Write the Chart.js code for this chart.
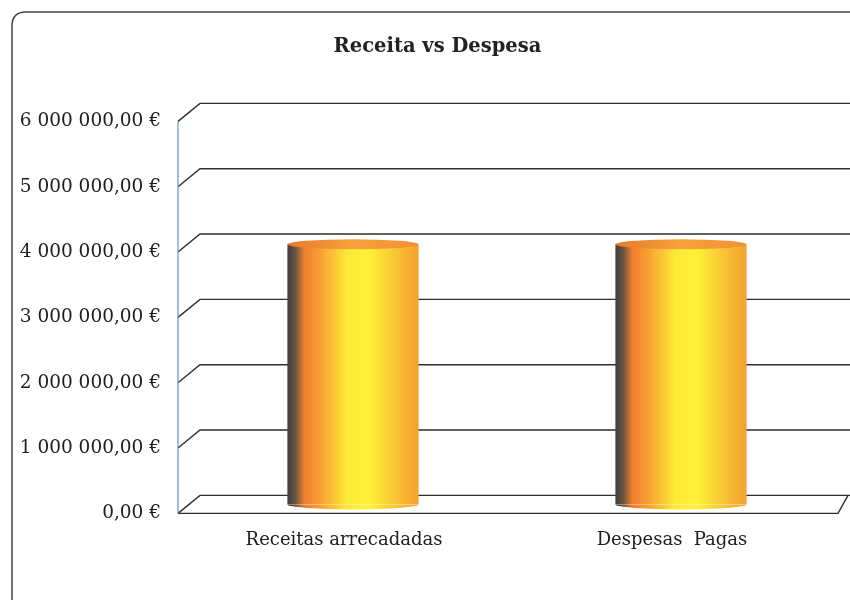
<!DOCTYPE html>
<html>
<head>
<meta charset="utf-8">
<script src="https://cdn.jsdelivr.net/npm/chart.js@4.4.1/dist/chart.umd.min.js"></script>
<style>
  html, body { margin: 0; padding: 0; background: #fff; }
  #wrap { position: relative; width: 850px; height: 603px; }
</style>
</head>
<body>
<div id="wrap"><canvas id="chart"></canvas></div>
<script>
// chart data
const categories = ['Receitas arrecadadas', 'Despesas  Pagas'];
const values = [3980000, 3980000];
const yTicks = [0, 1000000, 2000000, 3000000, 4000000, 5000000, 6000000];

const DEPTH = 9; // half depth of the 3D look, in px
const BAR_PCT = 0.4;

function euro(v) {
    const s = Math.round(v).toString().replace(/\B(?=(\d{3})+(?!\d))/g, ' ');
    return s + ',00 €';
}

function barGradient(ctx, x0, x1) {
    const g = ctx.createLinearGradient(x0, 0, x1, 0);
    g.addColorStop(0.00, '#3c3c3c');
    g.addColorStop(0.06, '#6a5540');
    g.addColorStop(0.13, '#ee7e2e');
    g.addColorStop(0.25, '#f7a032');
    g.addColorStop(0.45, '#fde836');
    g.addColorStop(0.62, '#fef238');
    g.addColorStop(0.82, '#f9c534');
    g.addColorStop(1.00, '#f4a030');
    return g;
}

// scriptable fill, one gradient per bar
function barFill(context) {
    const chart = context.chart;
    const xs = chart.scales.x;
    if (!chart.chartArea || !xs) return '#f7b030';
    const cx = xs.getPixelForValue(context.dataIndex);
    const w = chart.chartArea.width / categories.length * BAR_PCT;
    return barGradient(chart.ctx, cx - w / 2, cx + w / 2);
}

// back wall gridlines + front axis, drawn behind the bars
const wallPlugin = {
    id: 'wall',
    afterLayout(chart) {
        // title sits a bit right of the canvas centre
        if (chart.titleBlock) chart.titleBlock.left = 30;
    },
    beforeDatasetsDraw(chart) {
        const { ctx, chartArea, scales } = chart;
        const y = scales.y;
        const left = chartArea.left, right = chartArea.right;
        ctx.save();
        ctx.strokeStyle = '#2e2e2e';
        ctx.lineWidth = 1.4;
        yTicks.forEach(v => {
            const py = y.getPixelForValue(v);
            ctx.beginPath();
            ctx.moveTo(left - DEPTH - 2, py + DEPTH);
            ctx.lineTo(left + DEPTH + 2, py - DEPTH);
            ctx.lineTo(chart.width, py - DEPTH);
            ctx.stroke();
        });
        // front floor edge
        const p0 = y.getPixelForValue(0);
        ctx.beginPath();
        ctx.moveTo(left - DEPTH - 2, p0 + DEPTH);
        ctx.lineTo(right - 7, p0 + DEPTH);
        ctx.lineTo(right + 3, p0 - DEPTH);
        ctx.stroke();
        // front value axis
        ctx.strokeStyle = '#5d97bd';
        ctx.lineWidth = 1.2;
        ctx.beginPath();
        ctx.moveTo(left - DEPTH - 2, y.getPixelForValue(6000000) + DEPTH);
        ctx.lineTo(left - DEPTH - 2, p0 + DEPTH);
        ctx.stroke();
        ctx.restore();
    },
    afterDatasetsDraw(chart) {
        const { ctx } = chart;
        chart.getDatasetMeta(0).data.forEach(el => {
            const x0 = el.x - el.width / 2, x1 = el.x + el.width / 2;
            const rx = el.width / 2, ry = 5;
            ctx.save();
            // rounded bottom
            ctx.fillStyle = barGradient(ctx, x0, x1);
            ctx.beginPath();
            ctx.ellipse(el.x, el.base, rx, ry, 0, 0, Math.PI);
            ctx.fill();
            // top cap
            const g = ctx.createLinearGradient(x0, 0, x1, 0);
            g.addColorStop(0, '#e87a2c');
            g.addColorStop(0.5, '#f6a23a');
            g.addColorStop(1, '#f39030');
            ctx.fillStyle = g;
            ctx.beginPath();
            ctx.ellipse(el.x, el.y, rx, ry, 0, 0, Math.PI * 2);
            ctx.fill();
            ctx.restore();
        });
    }
};

// outer rounded frame
const framePlugin = {
    id: 'frame',
    beforeDraw(chart) {
        const { ctx } = chart;
        const l = 12, t = 12, r = 870, b = 600, rad = 14;
        ctx.save();
        ctx.strokeStyle = '#444';
        ctx.lineWidth = 1.5;
        ctx.beginPath();
        ctx.moveTo(l, b);
        ctx.lineTo(l, t + rad);
        ctx.quadraticCurveTo(l, t, l + rad, t);
        ctx.lineTo(r, t);
        ctx.stroke();
        ctx.restore();
    }
};

const serif = "'DejaVu Serif', 'Liberation Serif', serif";

new Chart(document.getElementById('chart'), {
    type: 'bar',
    data: {
        labels: categories,
        datasets: [{
            data: values,
            backgroundColor: barFill,
            borderWidth: 0,
            barPercentage: BAR_PCT,
            categoryPercentage: 1
        }]
    },
    options: {
        responsive: true,
        maintainAspectRatio: false,
        animation: false,
        layout: { padding: { left: 0, right: 5, top: 0, bottom: 27 } },
        plugins: {
            legend: { display: false },
            tooltip: { enabled: false },
            title: {
                display: true,
                text: 'Receita vs Despesa',
                color: '#222',
                font: { family: serif, size: 19.5, weight: 'bold' },
                padding: { top: 35, bottom: 54 }
            }
        },
        scales: {
            x: {
                grid: { display: false, drawTicks: false },
                border: { display: false },
                ticks: {
                    color: '#1e1e1e',
                    font: { family: serif, size: 18 },
                    padding: 25,
                    labelOffset: -DEPTH
                }
            },
            y: {
                min: 0,
                max: 6000000,
                afterFit(scale) { scale.width = 189; },
                afterBuildTicks(scale) { scale.ticks = yTicks.map(v => ({ value: v })); },
                grid: { display: false, drawTicks: false },
                border: { display: false },
                ticks: {
                    color: '#1e1e1e',
                    font: { family: serif, size: 18.5 },
                    padding: 28,
                    labelOffset: DEPTH,
                    callback: v => euro(v)
                }
            }
        }
    },
    plugins: [framePlugin, wallPlugin]
});
</script>
</body>
</html>
